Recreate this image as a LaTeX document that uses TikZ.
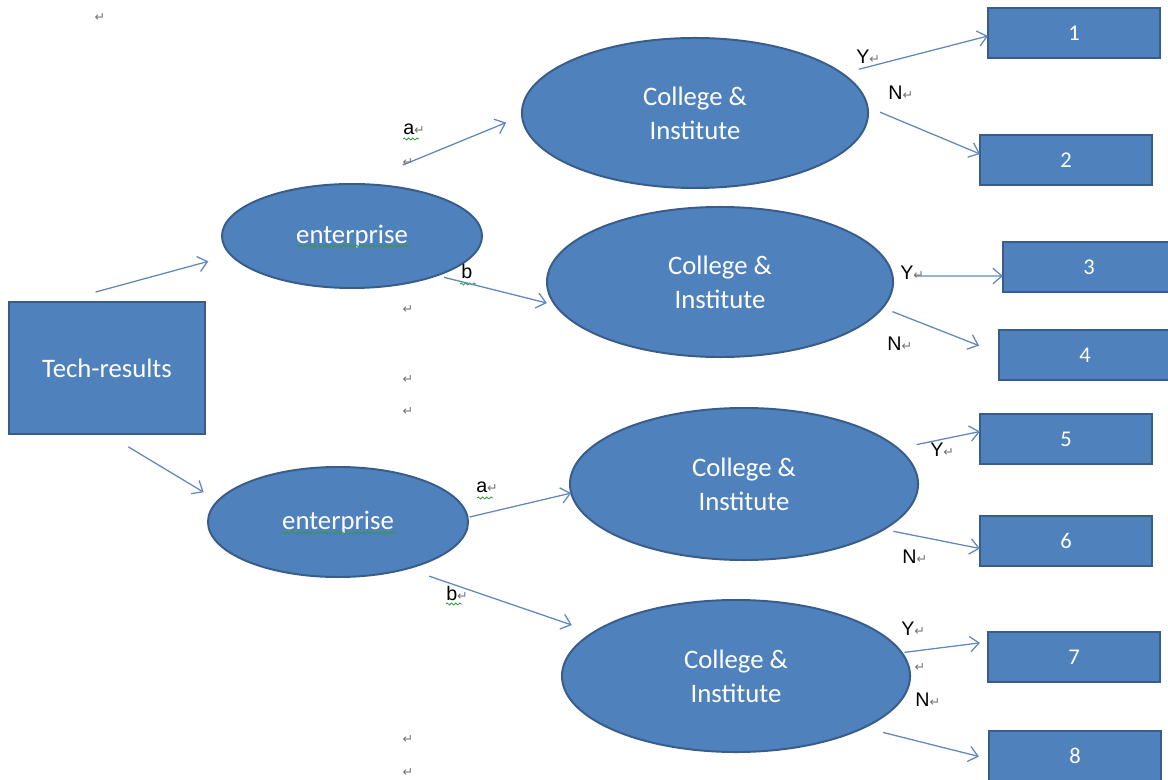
\documentclass[tikz,border=0pt]{standalone}
\usepackage{fontspec}
\setmainfont{Carlito}
\newfontfamily\labelfont{Liberation Sans}
\newfontfamily\markfont{DejaVu Sans}
\usetikzlibrary{arrows.meta,shapes.geometric,decorations.pathmorphing}
\definecolor{shapeblue}{RGB}{79,129,189}
\definecolor{edgeblue}{RGB}{56,93,138}
\definecolor{arrowblue}{RGB}{96,136,186}
\definecolor{spellgreen}{RGB}{60,150,70}
\newcommand{\retmark}{{\markfont\fontsize{9}{9}\selectfont\color{black!55}↵}}

\begin{document}
\begin{tikzpicture}[x=0.025cm,y=-0.025cm,>={Straight Barb[length=6.5pt,width=11pt]},
  box/.style={draw=edgeblue,fill=shapeblue,line width=1.4pt,text=white,outer sep=0pt,inner sep=0pt,font=\fontsize{16}{20}\selectfont},
  oval/.style={ellipse,draw=edgeblue,fill=shapeblue,line width=1.4pt,text=white,outer sep=0pt,inner sep=0pt,align=center,font=\fontsize{19}{24}\selectfont},
  arr/.style={->,draw=arrowblue,line width=0.9pt},
  lbl/.style={anchor=west,inner sep=0pt,font=\labelfont\fontsize{14}{14}\selectfont},
  squiggle/.style={draw=spellgreen,line width=0.6pt,decorate,decoration={snake,amplitude=0.7pt,segment length=3pt}}]
  \useasboundingbox (0,0) rectangle (1168,780);

  % shapes
  \node[box,minimum width=4.875cm,minimum height=3.3cm,font=\fontsize{19}{24}\selectfont] (tech) at (107,368) {Tech-results};
  \node[oval,minimum width=6.5cm,minimum height=2.6cm] (e1) at (352,236) {enterprise};
  \node[oval,minimum width=6.5cm,minimum height=2.75cm] (e2) at (338,522) {enterprise};
  \node[oval,minimum width=8.65cm,minimum height=3.75cm] (c1) at (695,113) {College \&\\Institute};
  \node[oval,minimum width=8.65cm,minimum height=3.75cm] (c2) at (720,282) {College \&\\Institute};
  \node[oval,minimum width=8.7cm,minimum height=3.8cm] (c3) at (744,484) {College \&\\Institute};
  \node[oval,minimum width=8.7cm,minimum height=3.8cm] (c4) at (736,676) {College \&\\Institute};
  \foreach \n/\x/\y in {1/1074/33,2/1066/160,3/1089/267,4/1085/355,5/1066/439,6/1066/541,7/1074/657,8/1075/756}
    \node[box,minimum width=4.3cm,minimum height=1.25cm] (b\n) at (\x,\y) {\n};

  % spell-check marks
  \draw[squiggle] (296,246) -- (410,246);
  \draw[squiggle] (282,533) -- (396,533);
  \foreach \x/\y in {403/139,460/284,477/498,446/604}
    \draw[squiggle] (\x,\y) -- ++(16,0);

  % arrows
  \draw[arr,shorten <=0.945cm,shorten >=0.59cm] (tech.126) -- (e1.189);
  \draw[arr,shorten <=0.62cm,shorten >=0.415cm] (tech.270) -- (e2.170);
  \draw[arr,shorten <=1.25cm,shorten >=0.43cm] (e1.85) -- (c1.181);
  \draw[arr,shorten <=0.19cm,shorten >=0.22cm] (e1.335) -- (c2.188);
  \draw[arr,shorten <=0.05cm] (e2.2) -- (c3.183);
  \draw[arr,shorten <=0.585cm,shorten >=0.57cm] (e2.326) -- (c4.163);
  \draw[arr,shorten <=0.43cm] (c1.15) -- (b1.182);
  \draw[arr,shorten <=0.34cm] (c1.2) -- (b2.176);
  \draw[arr,shorten <=0.56cm] (c2.2) -- (b3.186);
  \draw[arr,shorten <=0.265cm,shorten >=0.535cm] (c2.351) -- (b4.179);
  \draw[arr,shorten <=0.475cm] (c3.13) -- (b5.175);
  \draw[arr,shorten <=0.25cm] (c3.342) -- (b6.185);
  \draw[arr,shorten <=0.07cm,shorten >=0.2cm] (c4.8) -- (b7.170);
  \draw[arr,shorten <=0.5cm,shorten >=0.26cm] (c4.338) -- (b8.182);

  % labels
  \node[lbl] (la1) at (403,129) {a\retmark};
  \node[lbl] (lb1) at (461,271) {b};
  \node[lbl] (la2) at (476,487) {a\retmark};
  \node[lbl] (lb2) at (446,593) {b\retmark};
  \node[lbl] (ly1) at (856,57) {Y\retmark};
  \node[lbl] (ln1) at (888,93) {N\retmark};
  \node[lbl] (ly2) at (900,273) {Y\retmark};
  \node[lbl] (ln2) at (887,344) {N\retmark};
  \node[lbl] (ly3) at (930,450) {Y\retmark};
  \node[lbl] (ln3) at (902,557) {N\retmark};
  \node[lbl] (ly4) at (901,629) {Y\retmark};
  \node[lbl] (ln4) at (915,700) {N\retmark};

  % paragraph marks
  \foreach \x/\y [count=\i] in {100/18,408/163,408/310,408/380,408/412,920/668,408/740,408/773}
    \node[inner sep=0pt] (r\i) at (\x,\y) {\retmark};
\end{tikzpicture}
\end{document}
